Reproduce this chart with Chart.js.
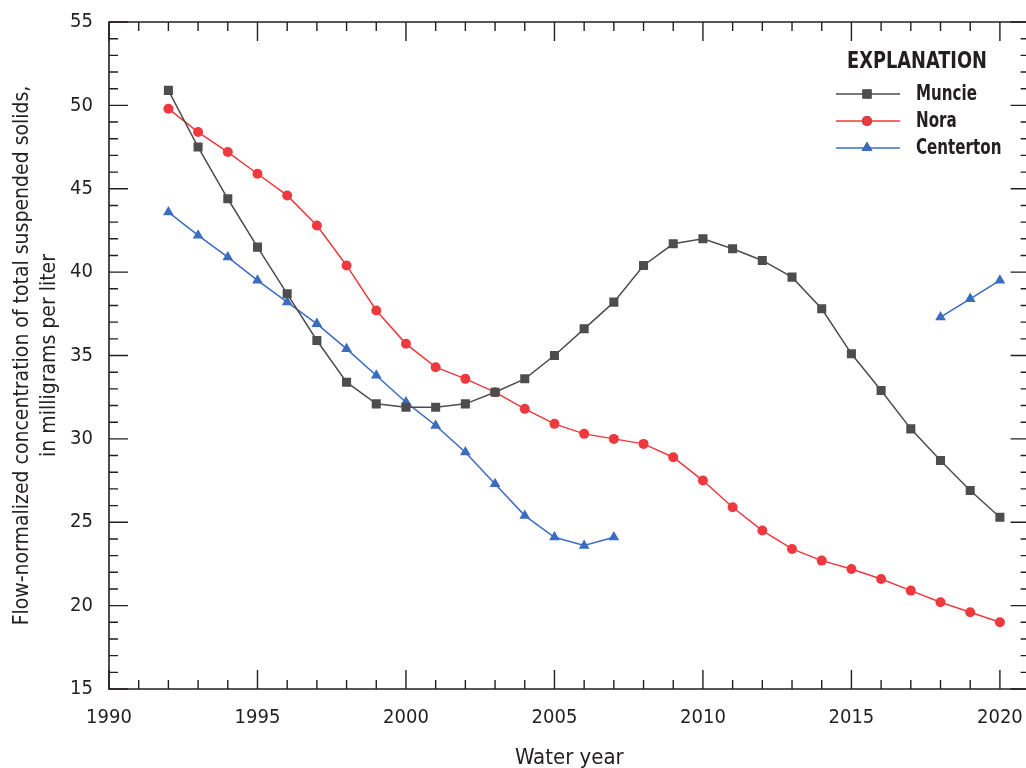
<!DOCTYPE html>
<html><head><meta charset="utf-8">
<script src="https://cdn.jsdelivr.net/npm/chart.js@4/dist/chart.umd.min.js"></script>
<style>
html,body{margin:0;padding:0;background:#fff;overflow:hidden;width:1026px;height:768px}
#wrap{width:1026px;height:768px;overflow:hidden;position:relative}
canvas{position:absolute;left:0;top:0}
</style></head>
<body><div id="wrap"><canvas id="c" width="1036" height="768"></canvas></div>
<script>
const years = [1992,1993,1994,1995,1996,1997,1998,1999,2000,2001,2002,2003,2004,2005,2006,2007,2008,2009,2010,2011,2012,2013,2014,2015,2016,2017,2018,2019,2020];
const muncie = [50.9,47.5,44.4,41.5,38.7,35.9,33.4,32.1,31.9,31.9,32.1,32.8,33.6,35.0,36.6,38.2,40.4,41.7,42.0,41.4,40.7,39.7,37.8,35.1,32.9,30.6,28.7,26.9,25.3];
const nora = [49.8,48.4,47.2,45.9,44.6,42.8,40.4,37.7,35.7,34.3,33.6,32.8,31.8,30.9,30.3,30.0,29.7,28.9,27.5,25.9,24.5,23.4,22.7,22.2,21.6,20.9,20.2,19.6,19.0];
const centerton = [43.6,42.2,40.9,39.5,38.2,36.9,35.4,33.8,32.2,30.8,29.2,27.3,25.4,24.1,23.6,24.1,null,null,null,null,null,null,null,null,null,null,37.3,38.4,39.5];
const seriesNames = ['Muncie','Nora','Centerton'];
const seriesColors = ['#4d4d4d','#ee3a3e','#3a6dbf'];
const xTickValues = [1990,1995,2000,2005,2010,2015,2020];
const yTickValues = [15,20,25,30,35,40,45,50,55];
const xTitle = 'Water year';
const yTitle = ['Flow-normalized concentration of total suspended solids,','in milligrams per liter'];
const legendTitle = 'EXPLANATION';

const FONT = '"Liberation Sans Narrow","DejaVu Sans Condensed","Arial Narrow",sans-serif';
const INK = '#231f20';

function pts(vals){ return years.map((y,i)=>({x:y,y:vals[i]})); }

const frameTicks = {
  id:'frameTicks',
  afterDatasetsDraw(chart){
    const ctx = chart.ctx, a = chart.chartArea;
    const xs = chart.scales.x, ys = chart.scales.y;
    ctx.save();
    ctx.strokeStyle = INK; ctx.lineWidth = 1.6; ctx.lineCap='butt';
    ctx.beginPath();
    ctx.moveTo(a.left,a.top); ctx.lineTo(a.right,a.top); ctx.lineTo(a.right,a.bottom); ctx.lineTo(a.left,a.bottom); ctx.closePath();
    ctx.stroke();
    ctx.lineWidth = 1.4;
    ctx.beginPath();
    for(let v=xs.min; v<=xs.max; v++){
      const p = xs.getPixelForValue(v);
      const L = (v%5===0)?19:9;
      ctx.moveTo(p,a.bottom); ctx.lineTo(p,a.bottom-L);
      ctx.moveTo(p,a.top); ctx.lineTo(p,a.top+L);
    }
    for(let v=ys.min; v<=ys.max; v++){
      const p = ys.getPixelForValue(v);
      const L = (v%5===0)?19:9;
      ctx.moveTo(a.left,p); ctx.lineTo(a.left+L,p);
      ctx.moveTo(a.right,p); ctx.lineTo(a.right-L,p);
    }
    ctx.stroke();
    ctx.restore();
  }
};

function condensedText(ctx, text, x, y, sx){
  ctx.save(); ctx.translate(x,y); ctx.scale(sx,1); ctx.fillText(text,0,0); ctx.restore();
}

const explanation = {
  id:'explanation',
  afterDraw(chart){
    const ctx = chart.ctx;
    ctx.save();
    ctx.fillStyle = INK;
    ctx.font = 'bold 23px '+FONT;
    ctx.textBaseline='middle'; ctx.textAlign='left';
    condensedText(ctx, legendTitle, 847, 62, 0.86);
    ctx.font = 'bold 21px '+FONT;
    const rows=[94,121,148];
    chart.data.datasets.forEach((ds,i)=>{
      const y=rows[i];
      ctx.strokeStyle = ds.borderColor; ctx.lineWidth = ds.borderWidth;
      ctx.beginPath(); ctx.moveTo(836,y); ctx.lineTo(900,y); ctx.stroke();
      Chart.helpers.drawPoint(ctx,{pointStyle:ds.pointStyle,radius:ds.pointRadius,borderWidth:0,rotation:0},867,y);
      ctx.fillStyle = ds.pointBackgroundColor;
      ctx.fill();
      ctx.fillStyle = INK;
      condensedText(ctx, ds.label, 916, y+1, 0.8);
    });
    ctx.restore();
  }
};

const mk = (i, vals, style, r) => ({
  label: seriesNames[i], data: pts(vals),
  borderColor: seriesColors[i], backgroundColor: seriesColors[i],
  pointBackgroundColor: seriesColors[i], pointBorderColor: seriesColors[i],
  pointBorderWidth: 0, borderWidth: 1.5, pointStyle: style, pointRadius: r,
  pointHoverRadius: r, spanGaps: false, tension: 0
});

new Chart(document.getElementById('c'), {
  type:'line',
  data:{ datasets:[ mk(0,muncie,'rect',6.4), mk(1,nora,'circle',5), mk(2,centerton,'triangle',6.2) ] },
  options:{
    responsive:false, animation:false, devicePixelRatio:1,
    layout:{padding:{left:0,top:22,right:6,bottom:0}},
    plugins:{legend:{display:false}, tooltip:{enabled:false}},
    scales:{
      x:{ type:'linear', min:1990, max:2021,
          grid:{display:false, drawTicks:false}, border:{display:false},
          afterBuildTicks(s){ s.ticks = xTickValues.map(v=>({value:v})); },
          afterFit(s){ s.height = 79; s.paddingLeft = 0; s.paddingRight = 0; },
          ticks:{ color:INK, padding:17, maxRotation:0, font:{family:FONT,size:20}, callback:v=>String(v) },
          title:{ display:true, text:xTitle, color:INK, font:{family:FONT,size:22}, padding:{top:0,bottom:-3} } },
      y:{ min:15, max:55,
          grid:{display:false, drawTicks:false}, border:{display:false},
          afterBuildTicks(s){ s.ticks = yTickValues.map(v=>({value:v})); },
          afterFit(s){ s.width = 109; s.paddingTop = 0; s.paddingBottom = 0; },
          ticks:{ color:INK, padding:16, font:{family:FONT,size:20} },
          title:{ display:true, text:yTitle, color:INK, font:{family:FONT,size:21,lineHeight:1.3}, padding:{top:9,bottom:0} } }
    }
  },
  plugins:[frameTicks, explanation]
});
</script>
</body></html>
